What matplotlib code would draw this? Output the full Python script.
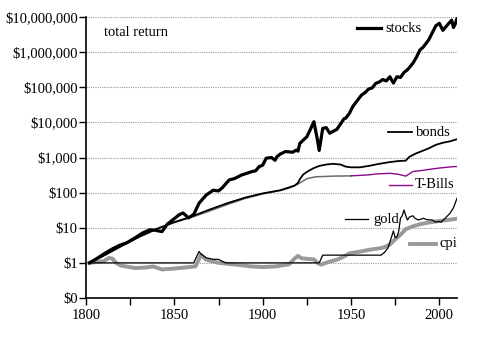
import numpy as np
import matplotlib
matplotlib.use('Agg')
import matplotlib.pyplot as plt
from matplotlib.lines import Line2D
from matplotlib.ticker import FixedLocator, FuncFormatter

# values (dollars, log scale)
stock_years = [1802, 1806, 1811, 1815, 1819, 1823, 1828, 1832, 1836, 1839, 1843, 1846,
               1849, 1853, 1855, 1858, 1861, 1864, 1868, 1872, 1875, 1877, 1881, 1884,
               1888, 1891, 1894, 1896, 1898, 1900, 1902, 1905, 1907, 1908, 1910, 1913,
               1917, 1919, 1920, 1921, 1925, 1927, 1929, 1931, 1932, 1934, 1936, 1938,
               1940, 1942, 1944, 1946, 1947, 1949, 1951, 1954, 1956, 1958, 1960, 1962,
               1964, 1966, 1968, 1970, 1972, 1974, 1976, 1978, 1980, 1982, 1985, 1987,
               1989, 1991, 1994, 1996, 1998, 2000, 2002, 2003, 2005, 2007, 2008, 2009,
               2010]
stock_vals = [1, 1.32, 1.91, 2.51, 3.16, 3.72, 5.25, 7.08, 8.71, 8.51, 7.76, 12.6,
              16.6, 24.0, 26.3, 19.1, 24.0, 50.1, 85, 117, 112, 135, 229, 251,
              316, 355, 398, 417, 550, 603, 955, 1000, 832, 1047, 1259, 1479,
              1413, 1622, 1514, 2512, 3890, 6310, 10470, 3162, 1585, 6761, 7079, 4898,
              5623, 6310, 8913, 12590, 13180, 17780, 28180, 44670, 60260, 70790, 89130, 95500,
              128800, 141300, 166000, 151400, 199500, 131800, 199500, 190500, 263000, 316200, 478600, 707900,
              1148000, 1413000, 2239000, 3548000, 5623000, 6607000, 4169000, 4786000, 6310000, 8128000, 5012000, 6310000,
              8913000]

bond_years = [1802, 1810, 1820, 1830, 1840, 1850, 1860, 1870, 1880, 1890, 1900, 1910,
              1918, 1920, 1921, 1923, 1926, 1929, 1932, 1936, 1940, 1944, 1947, 1950,
              1955, 1960, 1966, 1972, 1977, 1981, 1983, 1987, 1990, 1994, 1998, 2002,
              2006, 2010]
bond_vals = [1, 1.6, 3.0, 5.5, 9.3, 14.5, 21, 33, 50, 72, 95, 117,
             158, 190, 240, 330, 417, 501, 575, 631, 661, 631, 550, 525,
             525, 575, 661, 741, 794, 813, 1047, 1318, 1514, 1820, 2291, 2630,
             2884, 3311]

bill_years = [1802, 1810, 1820, 1830, 1840, 1850, 1860, 1870, 1880, 1890, 1900, 1910,
              1915, 1920, 1925, 1930, 1940, 1950, 1960, 1964, 1972, 1977, 1981, 1985,
              1990, 1994, 2000, 2004, 2008, 2010]
bill_vals = [1, 1.6, 3.0, 5.4, 9.1, 14, 20, 30, 46, 68, 92, 115,
             135, 175, 250, 282, 295, 300, 320, 339, 355, 331, 295, 398,
             427, 457, 501, 525, 550, 550]

gold_years = [1802, 1861, 1862, 1864, 1865, 1868, 1872, 1875, 1878, 1879, 1932, 1934,
              1967, 1969, 1971, 1973, 1974, 1975, 1976, 1977, 1978, 1979, 1980, 1981,
              1982, 1983, 1985, 1986, 1988, 1990, 1991, 1993, 1996, 1998, 2000, 2001,
              2003, 2006, 2008, 2010]
gold_vals = [1, 1, 1.3, 2.1, 1.8, 1.4, 1.26, 1.26, 1.05, 1, 1, 1.66,
             1.66, 2.0, 2.7, 5.6, 8.1, 5.2, 5.5, 7.9, 18.6, 22, 32, 22,
             16.6, 20, 22, 19, 16.6, 17.8, 18.6, 17, 16.6, 14.5, 15.1, 14.5,
             18, 25.7, 37, 69]

cpi_years = [1802, 1805, 1810, 1813, 1815, 1817, 1820, 1828, 1834, 1838, 1843, 1850,
             1856, 1862, 1865, 1868, 1875, 1885, 1894, 1900, 1907, 1915, 1918, 1920,
             1922, 1926, 1929, 1931, 1933, 1937, 1942, 1946, 1949, 1955, 1960, 1968,
             1972, 1974, 1978, 1981, 1985, 1989, 1993, 1998, 2003, 2009, 2010]
cpi_vals = [1, 1.05, 1.12, 1.38, 1.32, 1, 0.83, 0.71, 0.74, 0.79, 0.65, 0.69,
            0.74, 0.79, 1.7, 1.23, 1, 0.89, 0.79, 0.76, 0.79, 0.91, 1.32, 1.58,
            1.35, 1.29, 1.26, 1, 0.89, 1.05, 1.23, 1.51, 1.86, 2.09, 2.34, 2.69,
            3.31, 4.17, 6.31, 9.12, 11.0, 12.6, 13.8, 15.1, 16.2, 17.8, 18.2]

y_ticks = [0.1, 1, 10, 100, 1000, 10000, 100000, 1000000, 10000000]

plt.rcParams['font.family'] = ['Liberation Serif', 'DejaVu Serif']
plt.rcParams['font.size'] = 10.5

W, H = 478, 337
fig = plt.figure(figsize=(W / 100, H / 100), dpi=100)
ax = fig.add_axes([86 / W, 1 - 298 / H, (457 - 86) / W, (298 - 17) / H])

ax.set_yscale('log')
ax.set_ylim(0.1, 10000000)
ax.set_xlim(1800, 2010)

for v in y_ticks[1:]:
    ax.axhline(v, color='#9a9a9a', lw=0.8, ls=(0, (1, 1)), zorder=0)

# cpi (thick grey), gold, bills, bonds, stocks
ax.plot(cpi_years, cpi_vals, color='#999999', lw=2.8, zorder=2)
ax.plot(gold_years, gold_vals, color='black', lw=0.9, zorder=3)
by = np.array(bill_years)
bv = np.array(bill_vals)
early = by <= 1950
late = by >= 1950
ax.plot(by[early], bv[early], color='#6a6a6a', lw=1.1, zorder=3)
ax.plot(by[late], bv[late], color='#8b0a8b', lw=1.0, zorder=3)
ax.plot(bond_years, bond_vals, color='black', lw=1.3, zorder=4)
ax.plot(stock_years, stock_vals, color='black', lw=2.3, zorder=5)

ax.yaxis.set_major_locator(FixedLocator(y_ticks))
ax.yaxis.set_minor_locator(FixedLocator([]))
ax.yaxis.set_major_formatter(FuncFormatter(lambda v, p: '$0' if v < 1 else '${:,.0f}'.format(v)))
ax.xaxis.set_major_locator(FixedLocator([1800, 1850, 1900, 1950, 2000]))
ax.xaxis.set_minor_locator(FixedLocator([1825, 1875, 1925, 1975]))
ax.tick_params(axis='both', which='both', direction='out', length=5, width=1, color='black')
ax.tick_params(axis='y', pad=1)
ax.tick_params(axis='x', pad=3)
for s in ['top', 'right']:
    ax.spines[s].set_visible(False)
for s in ['left', 'bottom']:
    ax.spines[s].set_linewidth(1.2)

# inline labels with short key lines (pixel positions)
keys = [('stocks', 357, 381, 28, 'black', 2.3, 385),
        ('bonds', 388, 412, 132, 'black', 1.3, 416),
        ('T-Bills', 389, 412, 185, '#8b0a8b', 1.0, 415),
        ('gold', 345, 368, 219, 'black', 0.9, 373),
        ('cpi', 410, 436, 244, '#999999', 2.8, 439)]
for name, x0, x1, yy, c, lw, tx in keys:
    fig.add_artist(Line2D([x0 / W, x1 / W], [1 - yy / H, 1 - yy / H], color=c, lw=lw,
                          transform=fig.transFigure))
    fig.text(tx / W, 1 - yy / H, name, ha='left', va='center')
fig.text(104 / W, 1 - 33 / H, 'total return', ha='left', va='center')

fig.savefig('out.png', dpi=100)
